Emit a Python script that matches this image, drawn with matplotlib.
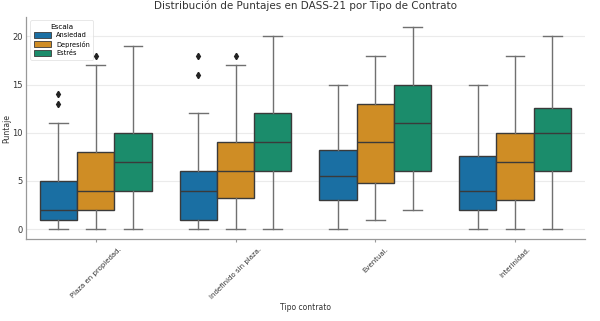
import matplotlib
matplotlib.use("Agg")
import numpy as np
import matplotlib.pyplot as plt
from matplotlib.patches import Patch

# Box statistics
contratos = ["Plaza en propiedad.", "Indefinido sin plaza.", "Eventual.", "Interinidad."]
escalas = ["Ansiedad", "Depresión", "Estrés"]
colores = ["#1a6fa3", "#cf8d25", "#1b8c6b"]

# one row per contrato, one column per escala
whislo = [[0, 0, 0], [0, 0, 0], [0, 1, 2], [0, 0, 0]]
q1 = [[1, 2, 4], [1, 3.2, 6], [3, 4.8, 6], [2, 3, 6]]
med = [[2, 4, 7], [4, 6, 9], [5.5, 9, 11], [4, 7, 10]]
q3 = [[5, 8, 10], [6, 9, 12], [8.2, 13, 15], [7.6, 10, 12.6]]
whishi = [[11, 17, 19], [12, 17, 20], [15, 18, 21], [15, 18, 20]]
fliers = [[[13, 14], [18], []], [[16, 18], [18], []], [[], [], []], [[], [], []]]

fig = plt.figure(figsize=(6, 3.21), dpi=100)
ax = fig.add_axes([0.043, 0.2545, 0.932, 0.6925])

width = 0.8 / len(escalas)
edge = "#3a3a3a"
for j, esc in enumerate(escalas):
    stats = []
    for i in range(len(contratos)):
        stats.append(dict(whislo=whislo[i][j], q1=q1[i][j], med=med[i][j],
                          q3=q3[i][j], whishi=whishi[i][j], fliers=fliers[i][j]))
    pos = np.arange(len(contratos)) - 0.4 + width * (j + 0.5)
    ax.bxp(stats, positions=pos, widths=width, patch_artist=True,
           boxprops=dict(facecolor=colores[j], edgecolor=edge, linewidth=1.0),
           medianprops=dict(color=edge, linewidth=1.0),
           whiskerprops=dict(color="#707070", linewidth=1.0),
           capprops=dict(color="#707070", linewidth=1.0),
           capwidths=width * 0.5,
           flierprops=dict(marker="d", markerfacecolor="#222222",
                           markeredgecolor="#222222", markersize=3.2),
           manage_ticks=False, zorder=2)

ax.set_xlim(-0.5, len(contratos) - 0.5)
ax.set_ylim(-1.05, 22)
ax.set_yticks([0, 5, 10, 15, 20])
ax.set_xticks(np.arange(len(contratos)))
ax.set_xticklabels(contratos, rotation=45, fontsize=5, color="#333333")
ax.tick_params(axis="y", labelsize=6, colors="#333333", length=0, pad=2)
ax.tick_params(axis="x", length=2, color="#999999", pad=3)
ax.grid(axis="y", color="#ebebeb", linewidth=0.8, zorder=0)
ax.set_axisbelow(True)
for s in ["top", "right"]:
    ax.spines[s].set_visible(False)
for s in ["left", "bottom"]:
    ax.spines[s].set_color("#999999")
    ax.spines[s].set_linewidth(0.9)

ax.set_title("Distribución de Puntajes en DASS-21 por Tipo de Contrato",
             fontsize=7.5, color="#333333", pad=6)
ax.set_xlabel("Tipo contrato", fontsize=5.5, color="#333333", labelpad=2)
ax.set_ylabel("Puntaje", fontsize=5.5, color="#333333", labelpad=1)

handles = [Patch(facecolor=c, edgecolor=edge, linewidth=0.6) for c in colores]
leg = ax.legend(handles, escalas, title="Escala", loc="upper left",
                bbox_to_anchor=(0.002, 1.0), fontsize=4.8, title_fontsize=5.2,
                frameon=True, handlelength=2.6, handleheight=1.0,
                borderpad=0.5, labelspacing=0.35)
leg.get_frame().set_edgecolor("#dddddd")
leg.get_frame().set_linewidth(0.6)

fig.savefig("out.png", dpi=100)
